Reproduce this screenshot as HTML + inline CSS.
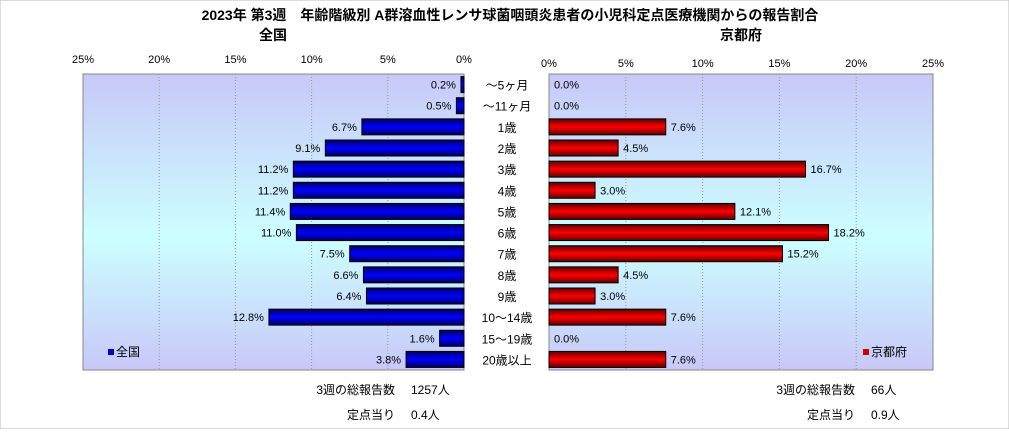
<!DOCTYPE html>
<html><head><meta charset="utf-8"><style>
body{margin:0;background:#fff;width:1009px;height:429px;overflow:hidden;font-family:"Liberation Sans","Noto Sans CJK JP",sans-serif;}
text{font-family:"Liberation Sans","Noto Sans CJK JP",sans-serif;}
</style></head><body>
<svg id="c" width="1009" height="429" xmlns="http://www.w3.org/2000/svg">
<defs>
<linearGradient id="bg" x1="0" y1="0" x2="0" y2="1">
<stop offset="0" stop-color="#c8c8f8"/><stop offset="0.55" stop-color="#ccffff"/><stop offset="1" stop-color="#c8c8f8"/></linearGradient>
<linearGradient id="gb" x1="0" y1="0" x2="0" y2="1">
<stop offset="0" stop-color="#000060"/><stop offset="0.5" stop-color="#0000ff"/><stop offset="1" stop-color="#000060"/></linearGradient>
<linearGradient id="gr" x1="0" y1="0" x2="0" y2="1">
<stop offset="0" stop-color="#600000"/><stop offset="0.5" stop-color="#ff0000"/><stop offset="1" stop-color="#600000"/></linearGradient>
</defs>
<rect x="0" y="0" width="1009" height="429" fill="#fff" stroke="#bbb"/>
<text x="510" y="20" font-size="14" font-weight="bold" text-anchor="middle">2023年 第3週　年齢階級別 A群溶血性レンサ球菌咽頭炎患者の小児科定点医療機関からの報告割合</text>
<text x="273" y="40" font-size="14" font-weight="bold" text-anchor="middle">全国</text>
<text x="741" y="40" font-size="14" font-weight="bold" text-anchor="middle">京都府</text>
<rect x="83" y="74" width="381" height="296" fill="url(#bg)" stroke="#888"/>
<rect x="549" y="74" width="384" height="296" fill="url(#bg)" stroke="#888"/>
<g id="g"></g>
<rect x="108" y="349" width="6" height="6" fill="#0000cc"/>
<text x="116" y="356" font-size="12">全国</text>
<rect x="863" y="349" width="6" height="6" fill="#cc0000"/>
<text x="871" y="356" font-size="12">京都府</text>
<text x="395" y="394" font-size="12" text-anchor="end">3週の総報告数</text>
<text x="411" y="394" font-size="12">1257人</text>
<text x="395" y="419" font-size="12" text-anchor="end">定点当り</text>
<text x="411" y="419" font-size="12">0.4人</text>
<text x="855" y="394" font-size="12" text-anchor="end">3週の総報告数</text>
<text x="871" y="394" font-size="12">66人</text>
<text x="855" y="419" font-size="12" text-anchor="end">定点当り</text>
<text x="871" y="419" font-size="12">0.9人</text>
</svg>
<script>
const categories=["～5ヶ月","～11ヶ月","1歳","2歳","3歳","4歳","5歳","6歳","7歳","8歳","9歳","10～14歳","15～19歳","20歳以上"];
const nationalValues=[0.2,0.5,6.7,9.1,11.2,11.2,11.4,11.0,7.5,6.6,6.4,12.8,1.6,3.8];
const kyotoValues=[0.0,0.0,7.6,4.5,16.7,3.0,12.1,18.2,15.2,4.5,3.0,7.6,0.0,7.6];
const ticks=[0,5,10,15,20,25];
const NS="http://www.w3.org/2000/svg";
const g=document.getElementById('g');
const xL=v=>464-v*(381/25);
const xR=v=>549+v*(384/25);
const topY=74,rowH=296/categories.length;
const yC=i=>topY+rowH*(i+0.5);
function mk(tag,at,txt){const e=document.createElementNS(NS,tag);for(const k in at)e.setAttribute(k,at[k]);if(txt!==undefined)e.textContent=txt;g.appendChild(e);return e;}
ticks.forEach(t=>{
  if(t>0&&t<25){
    let l=mk('line',{x1:xL(t),x2:xL(t),y1:74,y2:370,stroke:'#999','stroke-dasharray':'1,2'});
    
    
    let r=mk('line',{x1:xR(t),x2:xR(t),y1:74,y2:370,stroke:'#999','stroke-dasharray':'1,2'});
    
    
  }
  let a=mk('text',{x:xL(t),y:63,'font-size':11,'text-anchor':'middle'},t+'%');
  
  
  let b=mk('text',{x:xR(t),y:67,'font-size':11,'text-anchor':'middle'},t+'%');
  
  
});
categories.forEach((c,i)=>{
  const y=yC(i);
  let t=mk('text',{x:507,y:y+5,'font-size':12,'text-anchor':'middle'},c);
  
  
  const v=nationalValues[i];
  let b=mk('rect',{x:xL(v),y:y-8,width:464-xL(v),height:16,fill:'url(#gb)',stroke:'#000','stroke-width':1});
  
  
  let lt=mk('text',{x:xL(v)-5,y:y+4,'font-size':11,'text-anchor':'end'},v.toFixed(1)+'%');
  
  
  const k=kyotoValues[i];
  if(k>0){
    let r=mk('rect',{x:549,y:y-8,width:xR(k)-549,height:16,fill:'url(#gr)',stroke:'#000','stroke-width':1});
    
    
  }
  let kt=mk('text',{x:xR(k)+5,y:y+4,'font-size':11},k.toFixed(1)+'%');
  
  
});
</script>
</body></html>
